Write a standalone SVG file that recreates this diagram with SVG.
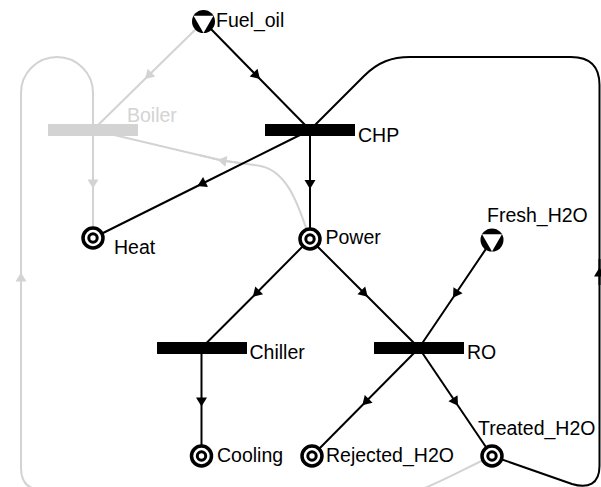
<svg xmlns="http://www.w3.org/2000/svg" width="601" height="487" viewBox="0 0 601 487">
<style>
.lb{fill:none;stroke:#000;stroke-width:2}
.lg{fill:none;stroke:#d3d3d3;stroke-width:2}
.mb{marker-mid:url(#ab)}
.mg{marker-mid:url(#ag)}
.bar{fill:#000}
.barg{fill:#d3d3d3}
.ring{fill:#fff;stroke:#000;stroke-width:3.5}
.ring2{fill:#fff;stroke:#000;stroke-width:3}
.txt{font-family:"Liberation Sans",Arial,sans-serif;font-size:19.5px;fill:#000}
.txtg{font-family:"Liberation Sans",Arial,sans-serif;font-size:19.5px;fill:#d3d3d3}
</style>
<defs>
<marker id="ab" markerUnits="userSpaceOnUse" markerWidth="14" markerHeight="14" viewBox="-7 -7 14 14" orient="auto"><path d="M-4.5,-5.5 L4.5,0 L-4.5,5.5 Z" fill="#000"/></marker>
<marker id="ag" markerUnits="userSpaceOnUse" markerWidth="14" markerHeight="14" viewBox="-7 -7 14 14" orient="auto"><path d="M-4.5,-5.5 L4.5,0 L-4.5,5.5 Z" fill="#d3d3d3"/></marker>
<g id="srcshape"><circle cx="0" cy="0" r="11.5" fill="#000"/><polygon points="0,11.5 -9.96,-5.75 9.96,-5.75" fill="#fff"/></g>
<g id="placeshape"><circle cx="0" cy="0" r="10" class="ring"/><circle cx="0" cy="0" r="4.2" class="ring2"/></g>
</defs>
<g id="connectors">
<path class="lg mg" d="M195.7,29.2 L148.25,75.75 L93,130"/>
<path class="lg mg" d="M93,130 L93,184 L93,238"/>
<path class="lg" d="M310,239 C300,212 290,170 258,165.5 L222,160.5 L93,130"/>
<path class="lg mg" d="M240,163 L222,160.5 L200,155.3"/>
<path class="lg" d="M490,457 C470,466 445,480 420,490 L43,490 Q21,490 21,468 L21,93 A36,36 0 0 1 93,93 L93,130"/>
<path class="lg mg" d="M21,290 L21,277 L21,264"/>
<path class="lb mb" d="M211.2,29.3 L256.75,75.75 L310,130"/>
<path class="lb mb" d="M310,130 L201.5,184 L93,238"/>
<path class="lb mb" d="M310,130 L310,184.5 L310,239"/>
<path class="lb mb" d="M310,239 L256,293.5 L201.5,348"/>
<path class="lb mb" d="M310,239 L364.5,293.5 L419,348"/>
<path class="lb mb" d="M485.8,249.1 L455.5,294 L419,348"/>
<path class="lb mb" d="M201.5,348 L201.5,402 L201.5,456"/>
<path class="lb mb" d="M419,348 L365.5,402 L312,456"/>
<path class="lb mb" d="M419,348 L455.5,402 L492,456"/>
<path class="lb" d="M492,456 L572,484 C588,489 599.5,484 599.5,466 L599.5,85 Q599.5,57 571,57 L410,57 C392,57 378,62 364,76 L310,130"/>
<path class="lb mb" d="M599.5,285 L599.5,272 L599.5,259"/>
</g>
<g id="Boiler"><rect class="barg" x="48" y="124" width="90" height="12"/><text class="txtg" x="127" y="122">Boiler</text></g>
<g id="CHP"><rect class="bar" x="265" y="124" width="90" height="12"/><text class="txt" x="358" y="141.5">CHP</text></g>
<g id="Chiller"><rect class="bar" x="157" y="342" width="90" height="12"/><text class="txt" x="249.5" y="359">Chiller</text></g>
<g id="RO"><rect class="bar" x="374" y="342" width="90" height="12"/><text class="txt" x="467" y="359">RO</text></g>
<g id="Fuel_oil"><use href="#srcshape" x="203.5" y="21.5"/><text class="txt" x="216" y="26.5">Fuel_oil</text></g>
<g id="Fresh_H2O"><use href="#srcshape" x="492" y="240"/><text class="txt" x="487" y="221.5">Fresh_H2O</text></g>
<g id="Heat"><use href="#placeshape" x="93" y="238"/><text class="txt" x="114" y="254">Heat</text></g>
<g id="Power"><use href="#placeshape" x="310" y="239"/><text class="txt" x="325.5" y="243.5">Power</text></g>
<g id="Cooling"><use href="#placeshape" x="201.5" y="456"/><text class="txt" x="217" y="462">Cooling</text></g>
<g id="Rejected_H2O"><use href="#placeshape" x="312" y="456"/><text class="txt" x="326" y="462">Rejected_H2O</text></g>
<g id="Treated_H2O"><use href="#placeshape" x="492" y="456"/><text class="txt" x="478" y="435">Treated_H2O</text></g>
</svg>
